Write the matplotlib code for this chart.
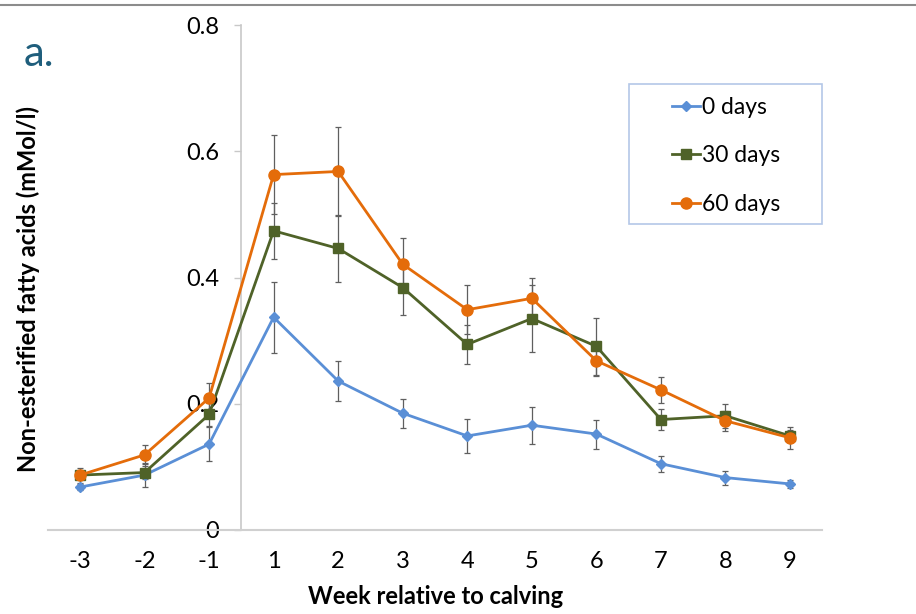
import numpy as np
import matplotlib
matplotlib.use("Agg")
import matplotlib.pyplot as plt
from matplotlib.patches import Rectangle
from matplotlib.lines import Line2D

plt.rcParams["font.family"] = ["Lato", "DejaVu Sans"]

# 数据
weeks = ["-3", "-2", "-1", "1", "2", "3", "4", "5", "6", "7", "8", "9"]
nefa_0 = [0.068, 0.087, 0.136, 0.337, 0.236, 0.185, 0.149, 0.166, 0.152, 0.105, 0.083, 0.073]
err_0 = [0.005, 0.019, 0.027, 0.056, 0.032, 0.023, 0.027, 0.029, 0.023, 0.013, 0.011, 0.006]
nefa_30 = [0.087, 0.091, 0.183, 0.474, 0.446, 0.384, 0.294, 0.335, 0.291, 0.175, 0.181, 0.149]
err_30 = [0.005, 0.010, 0.018, 0.044, 0.053, 0.043, 0.031, 0.053, 0.045, 0.016, 0.019, 0.010]
nefa_60 = [0.087, 0.119, 0.209, 0.563, 0.568, 0.421, 0.349, 0.367, 0.268, 0.222, 0.173, 0.146]
err_60 = [0.012, 0.015, 0.024, 0.063, 0.070, 0.042, 0.039, 0.033, 0.024, 0.021, 0.016, 0.017]
labels = ["0 days", "30 days", "60 days"]
colors = ["#5a8fd6", "#4f6228", "#e46c0a"]
markers = ["D", "s", "o"]
msizes = [5, 7, 8]

W, H = 916, 614
fig = plt.figure(figsize=(W / 100, H / 100), dpi=100)
ax = fig.add_axes([47.7 / W, 1 - 530 / H, (822.3 - 47.7) / W, (530 - 25) / H])

x = np.arange(len(weeks))
series = [(nefa_0, err_0), (nefa_30, err_30), (nefa_60, err_60)]
for (vals, errs), lab, c, m, ms in zip(series, labels, colors, markers, msizes):
    ax.errorbar(x, vals, yerr=errs, fmt="none", ecolor="#5f5f5f", elinewidth=0.9,
                capsize=2.3, capthick=0.9, zorder=2)
    ax.plot(x, vals, color=c, marker=m, markersize=ms, linewidth=2, label=lab, zorder=3)

ax.set_xlim(-0.5, len(weeks) - 0.5)
ax.set_ylim(0, 0.8)
ax.set_xticks(x)
ax.set_xticklabels(weeks)
ax.set_yticks([0, 0.2, 0.4, 0.6, 0.8])
ax.set_yticklabels(["0", "0.2", "0.4", "0.6", "0.8"])

for s in ["top", "right"]:
    ax.spines[s].set_visible(False)
ax.spines["left"].set_position(("data", 2.5))
ax.spines["left"].set_color("#c8c8c8")
ax.spines["bottom"].set_color("#d0d0d0")
ax.spines["left"].set_linewidth(1.2)
ax.spines["bottom"].set_linewidth(1.5)
ax.tick_params(axis="x", length=0, pad=15, labelsize=17)
ax.tick_params(axis="y", length=5, width=1, color="#c8c8c8", pad=11, labelsize=17, direction="out")

# 轴标题
fig.text(435.5 / W, 1 - 597 / H, "Week relative to calving", ha="center", va="center",
         fontsize=17, fontweight="bold")
fig.text(28 / W, 1 - 289 / H, "Non-esterified fatty acids (mMol/l)", ha="center", va="center",
         rotation=90, fontsize=17, fontweight="bold")
fig.text(39 / W, 1 - 54 / H, "a.", ha="center", va="center", fontsize=30, color="#1f5e7c")

# 顶部横线
fig.add_artist(Line2D([0, 1], [1 - 5 / H, 1 - 5 / H], transform=fig.transFigure,
                      color="#8c8c8c", linewidth=1.5))

# 图例
leg = ax.legend(loc="upper left", bbox_to_anchor=(672 / W, 1 - 97 / H),
                bbox_transform=fig.transFigure, frameon=False, fontsize=16.5,
                handlelength=1.2, handletextpad=0.1, labelspacing=1.2,
                borderpad=0, borderaxespad=0)
fig.add_artist(Rectangle((629 / W, 1 - 224 / H), 193 / W, 140 / H, transform=fig.transFigure,
                         fill=False, edgecolor="#b4c7e7", linewidth=1.2))

plt.savefig("out.png", dpi=100)
plt.close()
